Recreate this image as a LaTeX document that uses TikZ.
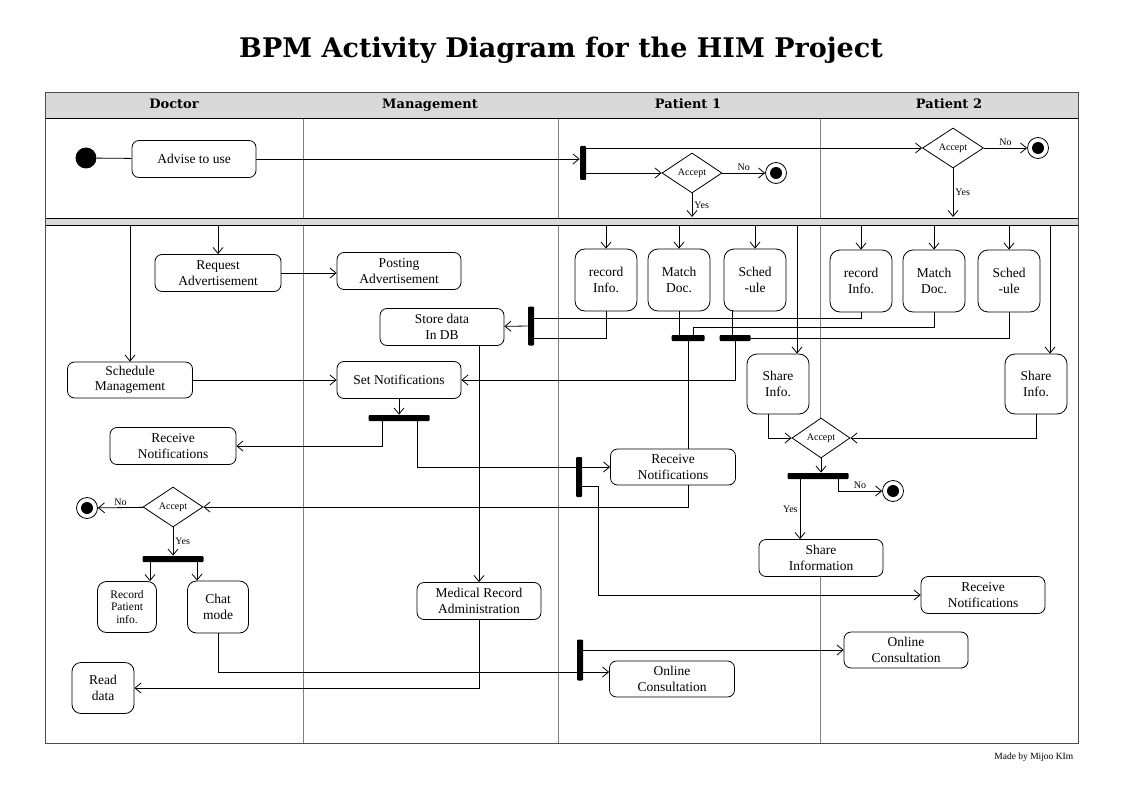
\documentclass[tikz,border=0pt]{standalone}
\usepackage{fontspec}
\setmainfont{Liberation Serif}
\newfontfamily\headfont{DejaVu Serif}
\usetikzlibrary{arrows.meta, shapes.geometric}

\tikzset{
	act/.style={draw, fill=white, rounded corners=7pt, align=center, inner sep=1pt, minimum width=124pt, minimum height=37pt, font=\fontsize{13.5}{15.5}\selectfont},
	sbox/.style={act, rounded corners=10pt, minimum width=62pt, minimum height=62pt},
	dec/.style={diamond, draw, fill=white, inner sep=0pt, minimum width=60pt, minimum height=40pt, font=\fontsize{10}{11}\selectfont},
	hbar/.style={fill=black, rounded corners=1pt, inner sep=0pt, minimum height=6pt},
	vbar/.style={fill=black, rounded corners=1pt, inner sep=0pt, minimum width=6pt},
	startstate/.style={circle, fill=black, inner sep=0pt, minimum size=21pt},
	endstate/.style={circle, draw, fill=white, inner sep=0pt, minimum size=21pt, path picture={\fill [black] (path picture bounding box.center) circle (6pt);}},
	arr/.style={-{Straight Barb[length=6pt, width=10pt]}},
	lbl/.style={font=\fontsize{10}{11}\selectfont, inner sep=2pt},
	lanehead/.style={font=\headfont\bfseries\fontsize{13}{15}\selectfont, text height=9pt, text depth=2pt}
}

\begin{document}
\begin{tikzpicture}[x=1pt, y=-1pt, line width=0.8pt]
	\useasboundingbox (0,0) rectangle (1123,794);

	% title
	\node [font=\headfont\bfseries\fontsize{27}{31}\selectfont] (title) at (561,50) {BPM Activity Diagram for the HIM Project};

	% lanes
	\draw [gray] (303,92) -- (303,743);
	\draw [gray] (558,92) -- (558,743);
	\draw [gray] (820,92) -- (820,418);
	\draw [gray] (820,577) -- (820,743);
	\fill [gray!30] (45,92) rectangle (1078,118);
	\fill [gray!30] (45,218) rectangle (1078,225);
	\draw (45,118) -- (1078,118) (45,218) -- (1078,218) (45,225) -- (1078,225);
	\draw [gray!60!black] (45,92) rectangle (1078,743);
	\foreach \x/\t/\nm in {174/Doctor/hdoc, 430/Management/hman, 688/Patient 1/hpa, 949/Patient 2/hpb}
		\node [lanehead] (\nm) at (\x,105) {\t};
	\coordinate (bandtop) at (45,217);
	\coordinate (band) at (45,225);

	% invitation
	\node [startstate] (start) at (86,158) {};
	\node [act] (advise) at (194,159) {Advise to use};
	\node [vbar, minimum height=34pt] (f1) at (583,163) {};
	\node [dec] (acc1) at (692,173) {Accept};
	\node [endstate] (end1) at (776,173) {};
	\node [dec, minimum width=61pt] (acc2) at (953,148) {Accept};
	\node [endstate] (end2) at (1038,148) {};
	\draw (start) -- (advise);
	\draw [arr] (advise) -- (advise -| f1.west);
	\draw [arr] (f1.east |- acc2) -- (acc2);
	\draw [arr] (f1.east |- acc1) -- (acc1);
	\draw [arr] (acc1) -- node [lbl, above] (no1) {No} (end1);
	\draw [arr] (acc1) -- node [lbl, right] (yes1) {Yes} (acc1 |- bandtop);
	\draw [arr] (acc2) -- node [lbl, above] (no2) {No} (end2);
	\draw [arr] (acc2) -- node [lbl, right] (yes2) {Yes} (acc2 |- bandtop);

	% doctor and management
	\node [act, minimum width=126pt] (reqad) at (218,273) {Request\\Advertisement};
	\node [act] (posad) at (399,271) {Posting\\Advertisement};
	\node [act, minimum width=125pt, minimum height=36pt] (schedm) at (130,380) {Schedule\\Management};
	\node [act] (setn) at (399,380) {Set Notifications};
	\node [hbar, minimum width=61pt] (b3) at (399,418) {};
	\node [act, minimum width=126pt] (rn0) at (173,446) {Receive\\Notifications};
	\node [act] (store) at (442,327) {Store data\\In DB};
	\node [vbar, minimum height=39pt] (b5) at (531,326) {};
	\node [act] (medrec) at (479,601) {Medical Record\\Administration};
	\draw [arr] (schedm.north |- band) -- (schedm);
	\draw [arr] (reqad.north |- band) -- (reqad);
	\draw [arr] (reqad) -- (reqad -| posad.west);
	\draw [arr] (schedm) -- (setn);
	\draw [arr] (setn) -- (b3);
	\draw [arr] ([xshift=-17pt]b3.south) |- (rn0);
	\draw [arr] (b5) -- (store);
	\draw [arr] (store.south -| medrec) -- (medrec);

	% patient activities
	\foreach \nm/\x/\y/\txt in {rec1/606/280/{record\\Info.}, match1/679/280/{Match\\Doc.}, sched1/755/280/{Sched\\-ule},
		rec2/861/281/{record\\Info.}, match2/934/281/{Match\\Doc.}, sched2/1009/281/{Sched\\-ule}} {
		\node [sbox] (\nm) at (\x,\y) {\txt};
		\draw [arr] (\nm.north |- band) -- (\nm);
	}
	\node [hbar, minimum width=33pt] (b6) at (688,338) {};
	\node [hbar, minimum width=31pt] (b7) at (735,338) {};
	\draw (rec1) |- ([yshift=-12pt]b5.east);
	\draw (rec2) |- ([yshift=8pt]b5.east);
	\draw (match1) -- (match1 |- b6.north);
	\draw (match2.south) -- ++(0,15) -| ([xshift=5pt]b6.north);
	\draw ([xshift=-23pt]sched1.south) -- ([xshift=-23pt]sched1.south |- b7.north);
	\draw (sched2) |- (b7.east);
	\draw [arr] (b7.south) |- (setn);

	% notifications
	\node [vbar, minimum height=40pt] (b4) at (579,477) {};
	\node [act, minimum width=125pt, minimum height=36pt] (rn1) at (673,467) {Receive\\Notifications};
	\node [act] (rn2) at (983,595) {Receive\\Notifications};
	\node [dec] (accD) at (173,507) {Accept};
	\node [endstate] (end3) at (87,508) {};
	\draw ([xshift=18pt]b3.south) |- (b4.west |- rn1);
	\draw [arr] (b4.east |- rn1) -- (rn1);
	\draw [arr] ([yshift=-9pt]b4.east) -| ([xshift=16pt]b4.east |- rn2) -- (rn2);
	\draw (b6.south) -- (b6.south |- rn1.north);
	\draw [arr] (rn1.south -| b6) |- (accD);
	\draw [arr] (accD) -- node [lbl, above] (no3) {No} (end3);

	% doctor follow-up
	\node [hbar, minimum width=61pt] (b8) at (173,559) {};
	\node [act, rounded corners=9pt, minimum width=59pt, minimum height=51pt, font=\fontsize{11.5}{12.5}\selectfont] (recpi) at (127,607) {Record\\Patient\\info.};
	\node [act, rounded corners=9pt, minimum width=61pt, minimum height=52pt] (chat) at (218,607) {Chat\\mode};
	\node [act, rounded corners=9pt, minimum width=62pt, minimum height=51pt] (readd) at (103,688) {Read\\data};
	\draw [arr] (accD) -- node [lbl, right] (yes3) {Yes} (b8);
	\draw [arr] ([xshift=-23pt]b8.south) -- ([xshift=-23pt]b8.south |- recpi.north);
	\draw [arr] ([xshift=24pt]b8.south) -- ([xshift=24pt]b8.south |- chat.north);
	\draw [arr] (medrec) |- (readd);

	% consultation
	\node [vbar, minimum height=41pt] (b9) at (580,660) {};
	\node [act, minimum width=125pt, minimum height=36pt] (oc1) at (672,679) {Online\\Consultation};
	\node [act, minimum height=36pt] (oc2) at (906,650) {Online\\Consultation};
	\draw (chat) |- ([yshift=-12pt]b9.west);
	\draw [arr] ([yshift=-12pt]b9.east) -- ([yshift=-12pt]b9.east -| oc1.west);
	\draw [arr] ([yshift=10pt]b9.east) -- ([yshift=10pt]b9.east -| oc2.west);

	% sharing
	\node [sbox, minimum height=60pt] (si1) at (778,384) {Share\\Info.};
	\node [sbox, minimum height=60pt] (si2) at (1036,384) {Share\\Info.};
	\node [dec, minimum width=58pt] (accB) at (821,438) {Accept};
	\node [hbar, minimum width=61pt] (b10) at (818,476) {};
	\node [endstate] (end4) at (893,491) {};
	\node [act] (shinf) at (821,558) {Share\\Information};
	\draw [arr] ([xshift=19pt]si1.north |- band) -- ([xshift=19pt]si1.north);
	\draw [arr] ([xshift=14pt]si2.north |- band) -- ([xshift=14pt]si2.north);
	\draw [arr] ([xshift=-10pt]si1.south) |- (accB);
	\draw [arr] (si2) |- (accB);
	\draw [arr] (accB) -- (accB |- b10.north);
	\draw [arr] ([xshift=-18pt]b10.south) -- node [lbl, left] (yes4) {Yes} ([xshift=-18pt]b10.south |- shinf.north);
	\draw [arr] ([xshift=20pt]b10.south) |- node [lbl, above, pos=0.75] (no4) {No} (end4);

	\node [font=\fontsize{9.5}{10}\selectfont, anchor=east] (credit) at (1077,757) {Made by Mijoo KIm};
\end{tikzpicture}
\end{document}
